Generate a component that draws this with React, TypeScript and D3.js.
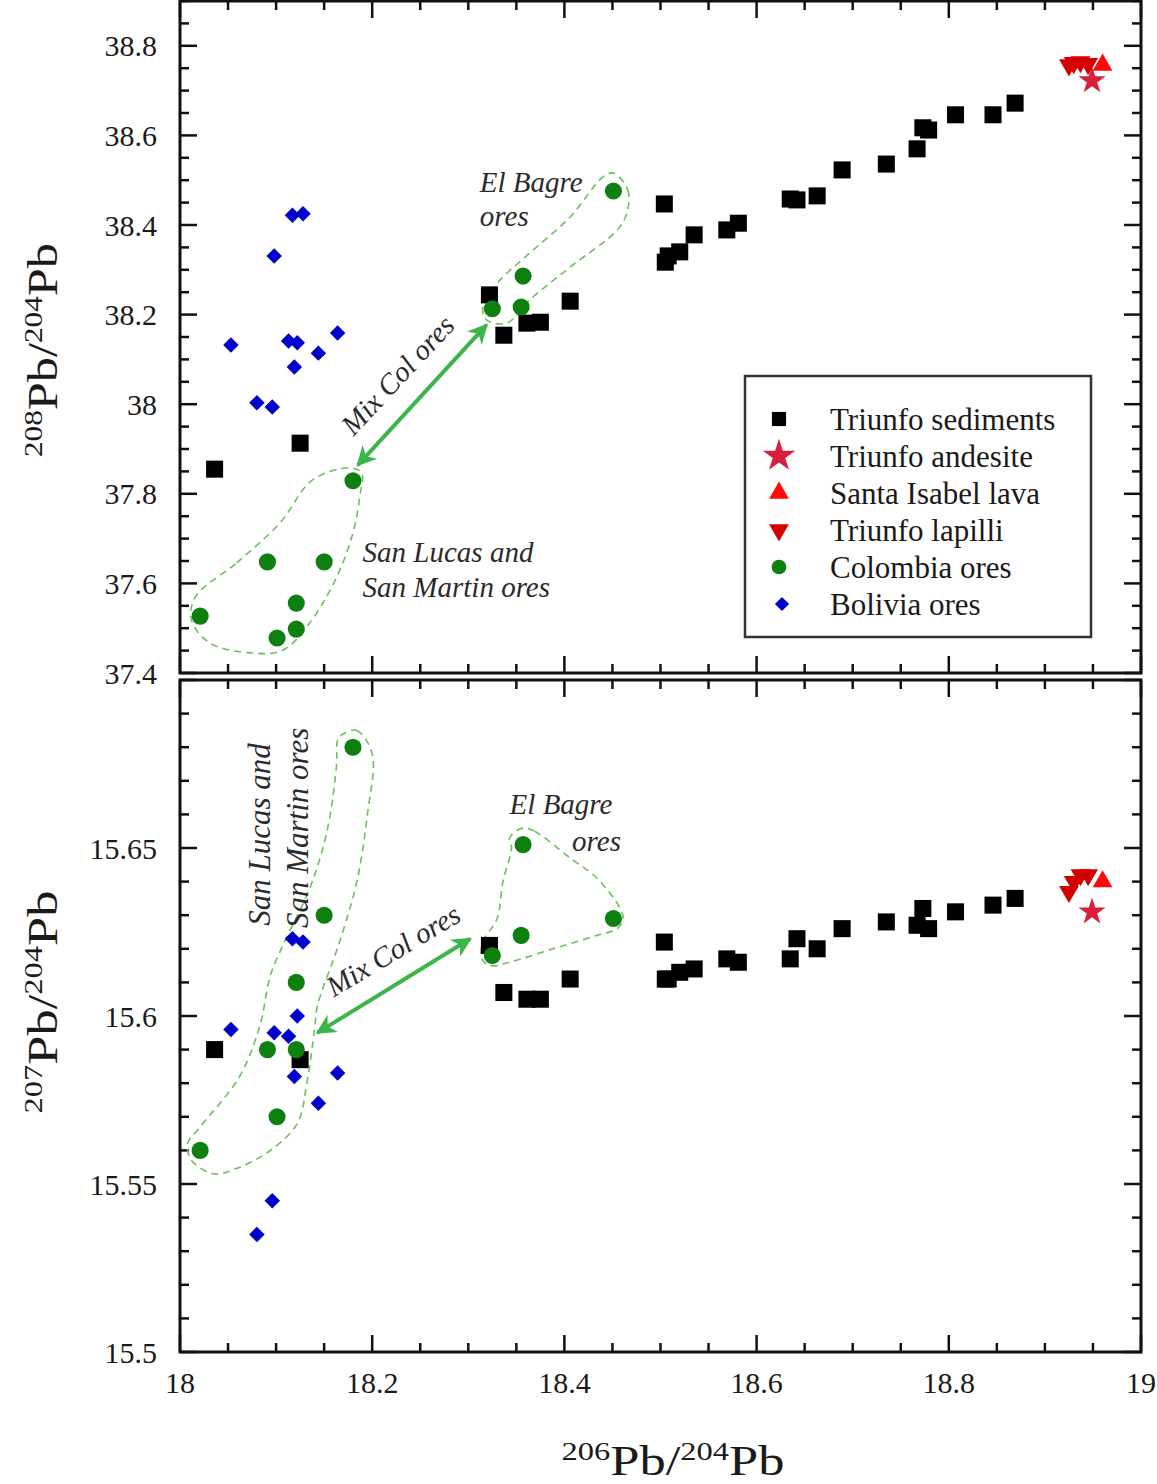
import { useEffect, useRef } from 'react';
import * as d3 from 'd3';

const W = 1157;
const H = 1484;
const SERIF = "'Liberation Serif', 'DejaVu Serif', serif";

// Triunfo sediments
const sedX = [18.036, 18.125, 18.322, 18.337, 18.361, 18.375, 18.406, 18.504, 18.505, 18.508, 18.52, 18.535, 18.569, 18.581, 18.635, 18.642, 18.663, 18.689, 18.735, 18.767, 18.773, 18.779, 18.807, 18.846, 18.869];
const sed208 = [37.855, 37.913, 38.244, 38.154, 38.181, 38.183, 38.23, 38.447, 38.317, 38.331, 38.34, 38.378, 38.389, 38.404, 38.458, 38.456, 38.465, 38.523, 38.536, 38.57, 38.617, 38.612, 38.646, 38.646, 38.672];
const sed207 = [15.59, 15.587, 15.621, 15.607, 15.605, 15.605, 15.611, 15.622, 15.611, 15.611, 15.613, 15.614, 15.617, 15.616, 15.617, 15.623, 15.62, 15.626, 15.628, 15.627, 15.632, 15.626, 15.631, 15.633, 15.635];

// Triunfo andesite
const andX = [18.949];
const and208 = [38.722];
const and207 = [15.631];

// Santa Isabel lava
const lavaX = [18.96];
const lava208 = [38.757];
const lava207 = [15.64];

// Triunfo lapilli
const lapX = [18.925, 18.93, 18.937, 18.945];
const lap208 = [38.757, 38.762, 38.764, 38.76];
const lap207 = [15.637, 15.64, 15.642, 15.642];

// Colombia ores
const colX = [18.021, 18.091, 18.101, 18.121, 18.121, 18.15, 18.18, 18.325, 18.355, 18.357, 18.451];
const col208 = [37.527, 37.648, 37.478, 37.556, 37.498, 37.648, 37.829, 38.213, 38.217, 38.286, 38.476];
const col207 = [15.56, 15.59, 15.57, 15.61, 15.59, 15.63, 15.68, 15.618, 15.624, 15.651, 15.629];

// Bolivia ores
const bolX = [18.053, 18.08, 18.096, 18.098, 18.113, 18.117, 18.119, 18.122, 18.128, 18.144, 18.164];
const bol208 = [38.132, 38.003, 37.994, 38.331, 38.141, 38.422, 38.083, 38.137, 38.425, 38.114, 38.159];
const bol207 = [15.596, 15.535, 15.545, 15.595, 15.594, 15.623, 15.582, 15.6, 15.622, 15.574, 15.583];

const xTicks = [18, 18.2, 18.4, 18.6, 18.8, 19];
const topTicks = [37.4, 37.6, 37.8, 38, 38.2, 38.4, 38.6, 38.8];
const botTicks = [15.5, 15.55, 15.6, 15.65];

// dashed outlines (data coordinates)
const topSanLucas = [[18.016, 37.57], [18.059, 37.646], [18.104, 37.735], [18.138, 37.831], [18.177, 37.858], [18.189, 37.846], [18.187, 37.793], [18.18, 37.713], [18.163, 37.614], [18.135, 37.512], [18.107, 37.451], [18.073, 37.445], [18.031, 37.467], [18.012, 37.518]];
const topElBagre = [[18.451, 38.516], [18.466, 38.478], [18.465, 38.427], [18.455, 38.389], [18.406, 38.306], [18.364, 38.233], [18.34, 38.181], [18.319, 38.188], [18.315, 38.217], [18.33, 38.27], [18.36, 38.33], [18.406, 38.418], [18.44, 38.507]];
const botSanLucas = [[18.17, 15.684], [18.184, 15.685], [18.2, 15.678], [18.195, 15.66], [18.184, 15.64], [18.166, 15.622], [18.143, 15.603], [18.14, 15.596], [18.132, 15.58], [18.122, 15.568], [18.094, 15.56], [18.062, 15.555], [18.036, 15.553], [18.012, 15.557], [18.008, 15.562], [18.021, 15.567], [18.062, 15.582], [18.083, 15.597], [18.094, 15.612], [18.107, 15.621], [18.135, 15.638], [18.153, 15.655], [18.163, 15.675], [18.164, 15.682]];
const botElBagre = [[18.357, 15.656], [18.369, 15.655], [18.406, 15.647], [18.434, 15.641], [18.458, 15.632], [18.461, 15.629], [18.455, 15.626], [18.434, 15.624], [18.388, 15.62], [18.343, 15.616], [18.323, 15.615], [18.314, 15.617], [18.315, 15.622], [18.33, 15.629], [18.336, 15.64], [18.345, 15.65], [18.343, 15.653]];

const topArrow = [[18.185, 37.864], [18.319, 38.177]];
const botArrow = [[18.143, 15.595], [18.302, 15.623]];

export default function App() {
  const ref = useRef<SVGSVGElement>(null);

  useEffect(() => {
    const svg = d3.select(ref.current);
    svg.selectAll('*').remove();

    const x = d3.scaleLinear().domain([18, 19]).range([180, 1141]);
    const yTop = d3.scaleLinear().domain([37.4, 38.9]).range([673, 1]);
    const yBot = d3.scaleLinear().domain([15.5, 15.7]).range([1352, 680]);

    const defs = svg.append('defs');
    defs
      .append('marker')
      .attr('id', 'ah')
      .attr('viewBox', '0 0 10 10')
      .attr('refX', 9)
      .attr('refY', 5)
      .attr('markerWidth', 22)
      .attr('markerHeight', 20)
      .attr('markerUnits', 'userSpaceOnUse')
      .attr('orient', 'auto-start-reverse')
      .append('path')
      .attr('d', 'M0,0 L10,5 L0,10 L3,5 z')
      .attr('fill', '#3cb54a');

    const panels = [
      { y: yTop, minor: 0.05, nMinor: 31, major: 4, ticks: topTicks },
      { y: yBot, minor: 0.01, nMinor: 21, major: 5, ticks: botTicks },
    ];

    panels.forEach((p) => {
      const [y0, y1] = p.y.domain();
      const top = p.y(y1);
      const bot = p.y(y0);
      const g = svg.append('g');
      // ticks on all four sides, pointing inward
      const xs = d3.range(21).map((i) => 18 + i * 0.05);
      xs.forEach((v, i) => {
        const len = i % 4 === 0 ? 17 : 9;
        g.append('line').attr('x1', x(v)).attr('x2', x(v)).attr('y1', top).attr('y2', top + len);
        g.append('line').attr('x1', x(v)).attr('x2', x(v)).attr('y1', bot).attr('y2', bot - len);
      });
      const ys = d3.range(p.nMinor).map((i) => y0 + i * p.minor).filter((v) => v <= y1 + 1e-9);
      ys.forEach((v, i) => {
        const len = i % p.major === 0 ? 17 : 9;
        g.append('line').attr('x1', 180).attr('x2', 180 + len).attr('y1', p.y(v)).attr('y2', p.y(v));
        g.append('line').attr('x1', 1141).attr('x2', 1141 - len).attr('y1', p.y(v)).attr('y2', p.y(v));
      });
      g.selectAll('line').attr('stroke', '#111').attr('stroke-width', 2.5);
      g.append('rect')
        .attr('x', 180)
        .attr('y', top)
        .attr('width', 961)
        .attr('height', bot - top)
        .attr('fill', 'none')
        .attr('stroke', '#111')
        .attr('stroke-width', 3);

      g.selectAll('text.yl')
        .data(p.ticks)
        .join('text')
        .attr('x', 157)
        .attr('y', (d) => p.y(d))
        .attr('dy', '0.35em')
        .attr('text-anchor', 'end')
        .attr('font-family', SERIF)
        .attr('font-size', 30)
        .attr('fill', '#1a1a1a')
        .text((d) => String(+d.toFixed(2)));
    });

    // x tick labels
    svg
      .append('g')
      .selectAll('text')
      .data(xTicks)
      .join('text')
      .attr('x', (d) => x(d))
      .attr('y', 1393)
      .attr('text-anchor', 'middle')
      .attr('font-family', SERIF)
      .attr('font-size', 30)
      .attr('fill', '#1a1a1a')
      .text((d) => String(+d.toFixed(1)));

    // axis titles
    const title = (g: any, a: string) => {
      const t = g
        .append('text')
        .attr('text-anchor', 'middle')
        .attr('font-family', SERIF)
        .attr('fill', '#1a1a1a')
        .attr('font-size', 42);
      t.append('tspan').attr('font-size', 26).attr('dy', -15).text(a);
      t.append('tspan').attr('dy', 15).text('Pb/');
      t.append('tspan').attr('font-size', 26).attr('dy', -15).text('204');
      t.append('tspan').attr('dy', 15).text('Pb');
    };
    title(svg.append('g').attr('transform', 'translate(673,1475) scale(1.25,1)'), '206');
    title(svg.append('g').attr('transform', 'translate(57,350) rotate(-90) scale(1.2,1)'), '208');
    title(svg.append('g').attr('transform', 'translate(57,1002) rotate(-90) scale(1.25,1)'), '207');

    // dashed outlines and arrows
    const drawHull = (pts: number[][], ys: any) => {
      svg
        .append('path')
        .attr(
          'd',
          d3
            .line<number[]>()
            .x((d) => x(d[0]))
            .y((d) => ys(d[1]))
            .curve(d3.curveCatmullRomClosed.alpha(0.5))(pts)
        )
        .attr('fill', 'none')
        .attr('stroke', '#6cc05c')
        .attr('stroke-width', 1.6)
        .attr('stroke-dasharray', '7,5');
    };
    drawHull(topSanLucas, yTop);
    drawHull(topElBagre, yTop);
    drawHull(botSanLucas, yBot);
    drawHull(botElBagre, yBot);

    const drawArrow = (pts: number[][], ys: any) => {
      svg
        .append('line')
        .attr('x1', x(pts[0][0]))
        .attr('y1', ys(pts[0][1]))
        .attr('x2', x(pts[1][0]))
        .attr('y2', ys(pts[1][1]))
        .attr('stroke', '#3cb54a')
        .attr('stroke-width', 4)
        .attr('marker-start', 'url(#ah)')
        .attr('marker-end', 'url(#ah)');
    };
    drawArrow(topArrow, yTop);
    drawArrow(botArrow, yBot);

    // annotation labels
    const note = (txt: string, xv: number, yv: number, ys: any, rot = 0, anchor = 'start', size = 29) => {
      svg
        .append('text')
        .attr('transform', `translate(${x(xv)},${ys(yv)}) rotate(${rot})`)
        .attr('text-anchor', anchor)
        .attr('font-family', SERIF)
        .attr('font-style', 'italic')
        .attr('font-size', size)
        .attr('fill', '#2b2b2b')
        .text(txt);
    };
    note('El Bagre', 18.312, 38.474, yTop);
    note('ores', 18.312, 38.398, yTop);
    note('San Lucas and', 18.19, 37.648, yTop);
    note('San Martin ores', 18.19, 37.57, yTop);
    note('Mix Col ores', 18.234, 38.05, yTop, -47, 'middle');
    note('El Bagre', 18.343, 15.66, yBot);
    note('ores', 18.408, 15.649, yBot);
    note('Mix Col ores', 18.227, 15.617, yBot, -31, 'middle');
    note('San Lucas and', 18.094, 15.654, yBot, -90, 'middle', 31);
    note('San Martin ores', 18.133, 15.656, yBot, -90, 'middle', 31);

    // markers
    const series = [
      { xs: sedX, a: sed208, b: sed207, type: d3.symbolSquare, size: 290, rot: 0, fill: '#000000' },
      { xs: andX, a: and208, b: and207, type: d3.symbolStar, size: 230, rot: 0, fill: '#d81e3a' },
      { xs: lavaX, a: lava208, b: lava207, type: d3.symbolTriangle, size: 170, rot: 0, fill: '#ff0a0a' },
      { xs: lapX, a: lap208, b: lap207, type: d3.symbolTriangle, size: 170, rot: 180, fill: '#d40000' },
      { xs: colX, a: col208, b: col207, type: d3.symbolCircle, size: 230, rot: 0, fill: '#0d800f' },
      { xs: bolX, a: bol208, b: bol207, type: d3.symbolSquare, size: 120, rot: 45, fill: '#0000cc' },
    ];
    series.forEach((s) => {
      const path = d3.symbol().type(s.type).size(s.size)();
      [
        { vals: s.a, ys: yTop },
        { vals: s.b, ys: yBot },
      ].forEach(({ vals, ys }) => {
        svg
          .append('g')
          .selectAll('path')
          .data(s.xs.map((xv, i) => [xv, vals[i]]))
          .join('path')
          .attr('d', path)
          .attr('transform', (d) => `translate(${x(d[0])},${ys(d[1])}) rotate(${s.rot})`)
          .attr('fill', s.fill);
      });
    });

    // legend
    const legendNames = ['Triunfo sediments', 'Triunfo andesite', 'Santa Isabel lava', 'Triunfo lapilli', 'Colombia ores', 'Bolivia ores'];
    const lg = svg.append('g');
    lg.append('rect')
      .attr('x', 745)
      .attr('y', 376)
      .attr('width', 346)
      .attr('height', 261)
      .attr('fill', '#fff')
      .attr('stroke', '#333')
      .attr('stroke-width', 2.5);
    const legendSizes = [200, 330, 170, 170, 170, 100];
    series.forEach((s, i) => {
      const cy = 419 + i * 37;
      lg.append('path')
        .attr('d', d3.symbol().type(s.type).size(legendSizes[i])())
        .attr('transform', `translate(${i === 5 ? 782 : 779},${cy}) rotate(${s.rot})`)
        .attr('fill', s.fill);
      lg.append('text')
        .attr('x', 830)
        .attr('y', cy + 11)
        .attr('font-family', SERIF)
        .attr('font-size', 31)
        .attr('fill', '#1a1a1a')
        .text(legendNames[i]);
    });
  }, []);

  return (
    <svg
      ref={ref}
      width={W}
      height={H}
      style={{ position: 'absolute', left: 0, top: 0, background: '#fff' }}
    />
  );
}
